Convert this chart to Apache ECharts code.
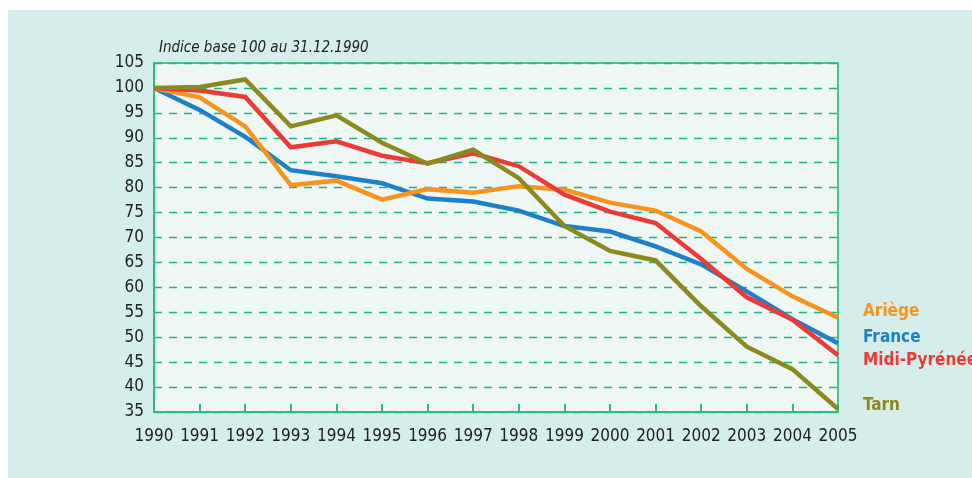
<!DOCTYPE html>
<html>
<head>
<meta charset="utf-8">
<script src="https://cdn.jsdelivr.net/npm/echarts@6/dist/echarts.min.js"></script>
<style>
  html, body { margin: 0; padding: 0; background: #ffffff; }
  #main { position: absolute; left: 8px; top: 10px; width: 964px; height: 468px; background: #d6eeeb; }
</style>
</head>
<body>
<div id="main"></div>
<script>
// indice base 100 au 31.12.1990
var years = ['1990','1991','1992','1993','1994','1995','1996','1997','1998','1999','2000','2001','2002','2003','2004','2005'];
var ariege = [100, 98.1, 92.3, 80.5, 81.4, 77.6, 79.7, 79.0, 80.3, 79.6, 77.0, 75.4, 71.2, 63.7, 58.2, 53.9];
var france = [100, 95.6, 90.2, 83.5, 82.3, 80.9, 77.8, 77.2, 75.4, 72.3, 71.2, 68.2, 64.6, 59.2, 53.6, 48.8];
var midiPyrenees = [100, 99.5, 98.2, 88.1, 89.3, 86.4, 84.9, 86.9, 84.3, 78.6, 75.2, 72.9, 65.7, 58.0, 53.5, 46.4];
var tarn = [100, 100.2, 101.7, 92.3, 94.5, 89.0, 84.8, 87.6, 81.9, 72.3, 67.3, 65.4, 56.2, 48.1, 43.6, 35.6];

var chartDom = document.getElementById('main');
var myChart = echarts.init(chartDom);
var font = "'DejaVu Sans Condensed', 'Liberation Sans', Arial, sans-serif";

function serie(name, data, color, dy) {
  return {
    name: name,
    type: 'line',
    data: data,
    symbol: 'none',
    lineStyle: { width: 4.5, color: color, join: 'miter' },
    itemStyle: { color: color },
    endLabel: {
      show: true,
      formatter: name,
      color: color,
      fontFamily: font,
      fontWeight: 'bold',
      fontSize: 17,
      distance: 25,
      offset: [0, dy]
    },
    silent: true
  };
}

var option = {
  animation: false,
  textStyle: { fontFamily: font },
  grid: {
    left: 146, right: 134, top: 53, bottom: 66,
    show: true,
    backgroundColor: '#eef7f4',
    borderColor: '#4cc38f',
    borderWidth: 2
  },
  graphic: [{
    type: 'text',
    left: 151, top: 31,
    style: {
      text: 'Indice base 100 au 31.12.1990',
      fontFamily: font,
      fontStyle: 'italic',
      fontSize: 15,
      fill: '#222'
    }
  }],
  xAxis: {
    type: 'category',
    data: years,
    boundaryGap: false,
    axisLine: { lineStyle: { color: '#2dbb84', width: 2 } },
    axisTick: { show: true, inside: true, length: 8, interval: 0, lineStyle: { color: '#2dbb84', width: 2 } },
    axisLabel: { color: '#222', fontSize: 17, margin: 16, interval: 0, fontFamily: font },
    splitLine: { show: false }
  },
  yAxis: {
    type: 'value',
    min: 35, max: 105, interval: 5,
    axisLine: { show: true, lineStyle: { color: '#2dbb84', width: 2 } },
    axisTick: { show: false },
    axisLabel: { color: '#222', fontSize: 17, margin: 10, fontFamily: font },
    splitLine: { show: true, lineStyle: { color: '#1fb386', type: [8, 7], width: 1.3 } }
  },
  series: [
    serie('France', france, '#1e80c6', -6),
    serie('Ariège', ariege, '#f7941d', -6),
    serie('Midi-Pyrénées', midiPyrenees, '#ec3a37', 5),
    serie('Tarn', tarn, '#8b8a1e', -3)
  ]
};

option && myChart.setOption(option);
</script>
</body>
</html>
